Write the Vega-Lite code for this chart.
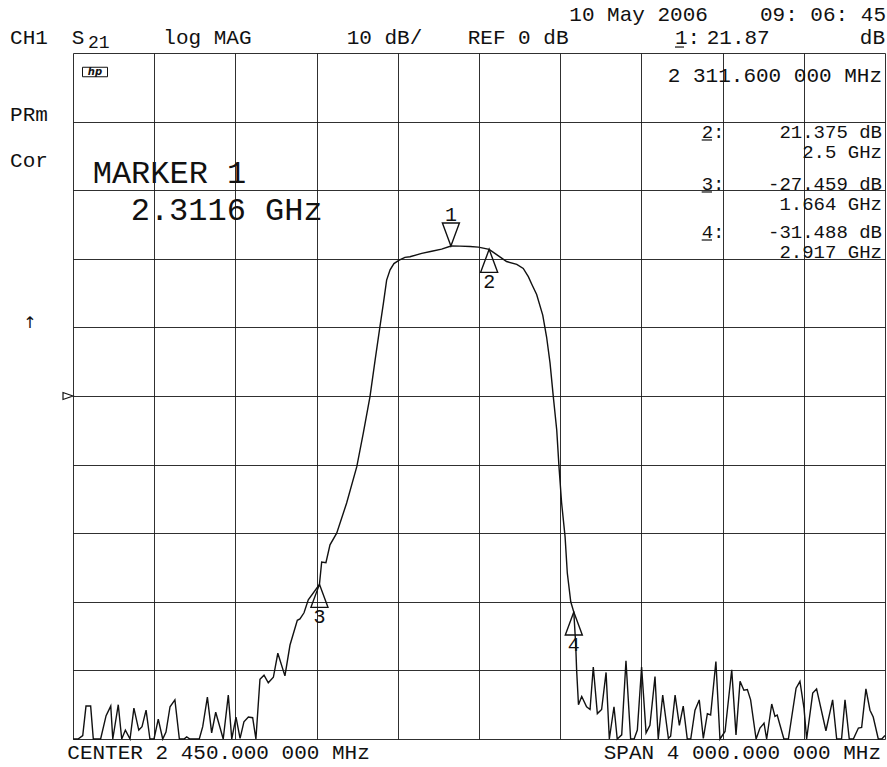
{
  "$schema": "https://vega.github.io/schema/vega-lite/v6.json",
  "width": 812,
  "height": 686,
  "autosize": {"type": "none"},
  "padding": {"left": 73, "top": 53, "right": 2, "bottom": 28},
  "background": "white",
  "config": {
    "view": {"stroke": null},
    "axis": {"grid": true, "gridColor": "#1a1a1a", "gridWidth": 1, "gridOpacity": 0.9, "labels": false, "ticks": false, "domain": false, "title": null}
  },
  "datasets": {
    "trace": [
      {"f":0.450,"db":-50},{"f":0.475,"db":-50},{"f":0.498,"db":-49.5},{"f":0.514,"db":-45.2},{"f":0.537,"db":-45.2},{"f":0.550,"db":-50},{"f":0.586,"db":-50},{"f":0.613,"db":-46.6},{"f":0.636,"db":-45.2},{"f":0.646,"db":-50},{"f":0.673,"db":-45.0},{"f":0.690,"db":-50},{"f":0.708,"db":-48.7},{"f":0.731,"db":-50},{"f":0.750,"db":-45.5},{"f":0.774,"db":-48.7},{"f":0.790,"db":-48.2},{"f":0.810,"db":-45.8},{"f":0.829,"db":-50},{"f":0.849,"db":-50},{"f":0.870,"db":-47.1},{"f":0.892,"db":-50},{"f":0.908,"db":-49.0},{"f":0.928,"db":-45.3},{"f":0.952,"db":-44.3},{"f":0.974,"db":-50},{"f":0.997,"db":-50},{"f":1.010,"db":-49.7},{"f":1.026,"db":-50},{"f":1.072,"db":-50},{"f":1.089,"db":-48.2},{"f":1.112,"db":-43.9},{"f":1.133,"db":-49.1},{"f":1.153,"db":-46.1},{"f":1.190,"db":-50},{"f":1.215,"db":-43.6},{"f":1.232,"db":-50},{"f":1.253,"db":-46.8},{"f":1.273,"db":-49.9},{"f":1.292,"db":-47.5},{"f":1.314,"db":-46.8},{"f":1.335,"db":-46.9},{"f":1.351,"db":-50},{"f":1.371,"db":-41.3},{"f":1.391,"db":-40.7},{"f":1.412,"db":-41.8},{"f":1.437,"db":-41.0},{"f":1.459,"db":-37.5},{"f":1.494,"db":-40.8},{"f":1.519,"db":-36.3},{"f":1.555,"db":-32.7},{"f":1.568,"db":-32.5},{"f":1.588,"db":-31.6},{"f":1.609,"db":-29.7},{"f":1.664,"db":-27.459},{"f":1.675,"db":-24.2},{"f":1.696,"db":-24.3},{"f":1.716,"db":-21.7},{"f":1.749,"db":-20.0},{"f":1.798,"db":-15.6},{"f":1.848,"db":-10.3},{"f":1.880,"db":-5.4},{"f":1.913,"db":-0.1},{"f":1.938,"db":5.2},{"f":1.962,"db":10.1},{"f":1.979,"db":13.5},{"f":1.995,"db":16.9},{"f":2.012,"db":18.4},{"f":2.031,"db":19.3},{"f":2.057,"db":19.8},{"f":2.085,"db":20.2},{"f":2.110,"db":20.3},{"f":2.168,"db":20.8},{"f":2.217,"db":21.1},{"f":2.266,"db":21.4},{"f":2.3116,"db":21.87},{"f":2.356,"db":21.85},{"f":2.406,"db":21.8},{"f":2.447,"db":21.7},{"f":2.500,"db":21.375},{"f":2.537,"db":20.6},{"f":2.586,"db":19.6},{"f":2.636,"db":19.2},{"f":2.668,"db":18.6},{"f":2.693,"db":17.4},{"f":2.710,"db":16.3},{"f":2.734,"db":14.8},{"f":2.764,"db":11.8},{"f":2.783,"db":8.6},{"f":2.800,"db":4.8},{"f":2.816,"db":-0.1},{"f":2.833,"db":-5.0},{"f":2.844,"db":-10.3},{"f":2.857,"db":-15.6},{"f":2.874,"db":-20.5},{"f":2.885,"db":-25.8},{"f":2.902,"db":-30.0},{"f":2.917,"db":-31.488},{"f":2.926,"db":-36.0},{"f":2.931,"db":-40.0},{"f":2.940,"db":-45.0},{"f":2.956,"db":-43.8},{"f":2.980,"db":-45.3},{"f":2.997,"db":-45.7},{"f":3.013,"db":-39.5},{"f":3.033,"db":-46.3},{"f":3.054,"db":-45.7},{"f":3.076,"db":-40.3},{"f":3.092,"db":-50},{"f":3.115,"db":-45.3},{"f":3.131,"db":-50},{"f":3.153,"db":-49.4},{"f":3.174,"db":-38.6},{"f":3.197,"db":-50},{"f":3.214,"db":-50},{"f":3.230,"db":-48.7},{"f":3.251,"db":-39.5},{"f":3.273,"db":-49.1},{"f":3.292,"db":-48.0},{"f":3.317,"db":-40.9},{"f":3.333,"db":-50},{"f":3.355,"db":-43.6},{"f":3.383,"db":-49.9},{"f":3.394,"db":-49.6},{"f":3.416,"db":-43.6},{"f":3.437,"db":-48.0},{"f":3.456,"db":-45.2},{"f":3.476,"db":-50},{"f":3.493,"db":-50},{"f":3.514,"db":-45.8},{"f":3.535,"db":-44.3},{"f":3.555,"db":-49.9},{"f":3.575,"db":-46.3},{"f":3.591,"db":-46.5},{"f":3.617,"db":-38.7},{"f":3.637,"db":-50},{"f":3.662,"db":-48.9},{"f":3.695,"db":-39.9},{"f":3.716,"db":-49.4},{"f":3.736,"db":-41.6},{"f":3.755,"db":-42.9},{"f":3.772,"db":-42.8},{"f":3.788,"db":-44.3},{"f":3.815,"db":-50},{"f":3.834,"db":-48.4},{"f":3.854,"db":-47.7},{"f":3.867,"db":-50},{"f":3.892,"db":-44.9},{"f":3.908,"db":-46.7},{"f":3.919,"db":-46.5},{"f":3.933,"db":-48.0},{"f":3.952,"db":-50},{"f":3.974,"db":-50},{"f":4.012,"db":-42.6},{"f":4.031,"db":-41.6},{"f":4.051,"db":-45.5},{"f":4.064,"db":-50},{"f":4.094,"db":-43.3},{"f":4.113,"db":-42.7},{"f":4.159,"db":-48.8},{"f":4.192,"db":-44.3},{"f":4.212,"db":-50},{"f":4.236,"db":-50},{"f":4.253,"db":-44.3},{"f":4.274,"db":-50},{"f":4.294,"db":-50},{"f":4.319,"db":-48.4},{"f":4.335,"db":-48.3},{"f":4.356,"db":-42.7},{"f":4.376,"db":-45.8},{"f":4.392,"db":-46.8},{"f":4.417,"db":-50},{"f":4.434,"db":-50},{"f":4.450,"db":-49.5}
    ],
    "markers": [
      {"m":"1","f":2.3116,"db":21.87,"dir":"down"},
      {"m":"2","f":2.5,"db":21.375,"dir":"up"},
      {"m":"3","f":1.664,"db":-27.459,"dir":"up"},
      {"m":"4","f":2.917,"db":-31.488,"dir":"up"}
    ],
    "textLeft": [
      {"t":"CH1","f":0.140,"db":51.38},
      {"t":"S","f":0.4436,"db":51.38},
      {"t":"log MAG","f":0.8948,"db":51.38},
      {"t":"10 dB/","f":1.7983,"db":51.38},
      {"t":"REF 0 dB","f":2.3943,"db":51.31},
      {"t":"1:","f":3.4155,"db":51.31},
      {"t":"21.87","f":3.5717,"db":51.31},
      {"t":"10 May 2006","f":2.8948,"db":54.66},
      {"t":"PRm","f":0.140,"db":40.13},
      {"t":"Cor","f":0.140,"db":33.43},
      {"t":"CENTER 2 450.000 000 MHz","f":0.4219,"db":-52.92}
    ],
    "textPanelLeft": [
      {"t":"2:","f":3.547,"db":37.61},
      {"t":"3:","f":3.547,"db":30.03},
      {"t":"4:","f":3.547,"db":23.03}
    ],
    "textRight": [
      {"t":"dB","f":4.45,"db":51.31},
      {"t":"09: 06: 45","f":4.4549,"db":54.66},
      {"t":"2 311.600 000 MHz","f":4.4353,"db":45.77},
      {"t":"SPAN 4 000.000 000 MHz","f":4.4303,"db":-52.92}
    ],
    "textPanelRight": [
      {"t":["21.375 dB","2.5 GHz"],"f":4.4353,"db":37.61},
      {"t":["-27.459 dB","1.664 GHz"],"f":4.4353,"db":30.03},
      {"t":["-31.488 dB","2.917 GHz"],"f":4.4353,"db":23.03}
    ],
    "textSub": [{"t":"21","f":0.5239,"db":50.73}],
    "textBig": [
      {"t":"MARKER 1","f":0.547,"db":31.09},
      {"t":"2.3116 GHz","f":0.7342,"db":25.66}
    ],
    "arrow": [{"t":"↑","f":0.2382,"db":9.91}],
    "ref": [{"f":0.45,"db":0}],
    "logo": [{"t":"hp","f":0.5584,"db":47.23}],
    "underline": [
      {"f1":3.4155,"f2":3.4599,"db":50.87},
      {"f1":3.547,"f2":3.5978,"db":37.32},
      {"f1":3.547,"f2":3.5978,"db":29.74},
      {"f1":3.547,"f2":3.5978,"db":22.74}
    ]
  },
  "layer": [
    {
      "data": {"name": "trace"},
      "mark": {"type": "line", "color": "#111", "strokeWidth": 1.4},
      "encoding": {
        "x": {"field": "f", "type": "quantitative", "scale": {"domain": [0.45, 4.45], "nice": false, "zero": false},
              "axis": {"values": [0.45, 0.85, 1.25, 1.65, 2.05, 2.45, 2.85, 3.25, 3.65, 4.05, 4.45]}},
        "y": {"field": "db", "type": "quantitative", "scale": {"domain": [-50, 50], "nice": false, "zero": false},
              "axis": {"values": [-50, -40, -30, -20, -10, 0, 10, 20, 30, 40, 50]}}
      }
    },
    {
      "data": {"name": "markers"},
      "mark": {"type": "point", "filled": false, "stroke": "#111", "strokeWidth": 1.4, "size": 2116, "opacity": 1},
      "encoding": {
        "x": {"field": "f", "type": "quantitative"},
        "y": {"field": "db", "type": "quantitative"},
        "shape": {"field": "dir", "type": "nominal", "scale": {"domain": ["down", "up"], "range": ["M0,0L-0.37,-1L0.37,-1Z", "M0,0L-0.37,1L0.37,1Z"]}, "legend": null}
      }
    },
    {
      "data": {"name": "markers"},
      "transform": [{"filter": "datum.dir == 'down'"}],
      "mark": {"type": "text", "font": "Liberation Mono", "fontSize": 20, "align": "center", "baseline": "alphabetic", "dy": -25, "color": "#111"},
      "encoding": {"x": {"field": "f", "type": "quantitative"}, "y": {"field": "db", "type": "quantitative"}, "text": {"field": "m"}}
    },
    {
      "data": {"name": "markers"},
      "transform": [{"filter": "datum.dir == 'up'"}],
      "mark": {"type": "text", "font": "Liberation Mono", "fontSize": 20, "align": "center", "baseline": "alphabetic", "dy": 39, "color": "#111"},
      "encoding": {"x": {"field": "f", "type": "quantitative"}, "y": {"field": "db", "type": "quantitative"}, "text": {"field": "m"}}
    },
    {
      "data": {"name": "textLeft"},
      "mark": {"type": "text", "font": "Liberation Mono", "fontSize": 21, "align": "left", "baseline": "alphabetic", "color": "#111"},
      "encoding": {"x": {"field": "f", "type": "quantitative"}, "y": {"field": "db", "type": "quantitative"}, "text": {"field": "t"}}
    },
    {
      "data": {"name": "textPanelLeft"},
      "mark": {"type": "text", "font": "Liberation Mono", "fontSize": 19, "align": "left", "baseline": "alphabetic", "color": "#111"},
      "encoding": {"x": {"field": "f", "type": "quantitative"}, "y": {"field": "db", "type": "quantitative"}, "text": {"field": "t"}}
    },
    {
      "data": {"name": "textRight"},
      "mark": {"type": "text", "font": "Liberation Mono", "fontSize": 21, "align": "right", "baseline": "alphabetic", "color": "#111"},
      "encoding": {"x": {"field": "f", "type": "quantitative"}, "y": {"field": "db", "type": "quantitative"}, "text": {"field": "t"}}
    },
    {
      "data": {"name": "textPanelRight"},
      "mark": {"type": "text", "font": "Liberation Mono", "fontSize": 19, "lineHeight": 20, "align": "right", "baseline": "alphabetic", "color": "#111"},
      "encoding": {"x": {"field": "f", "type": "quantitative"}, "y": {"field": "db", "type": "quantitative"}, "text": {"field": "t"}}
    },
    {
      "data": {"name": "textSub"},
      "mark": {"type": "text", "font": "Liberation Mono", "fontSize": 18, "align": "left", "baseline": "alphabetic", "color": "#111"},
      "encoding": {"x": {"field": "f", "type": "quantitative"}, "y": {"field": "db", "type": "quantitative"}, "text": {"field": "t"}}
    },
    {
      "data": {"name": "textBig"},
      "mark": {"type": "text", "font": "Liberation Mono", "fontSize": 32, "align": "left", "baseline": "alphabetic", "color": "#111"},
      "encoding": {"x": {"field": "f", "type": "quantitative"}, "y": {"field": "db", "type": "quantitative"}, "text": {"field": "t"}}
    },
    {
      "data": {"name": "arrow"},
      "mark": {"type": "text", "font": "DejaVu Sans", "fontSize": 16, "align": "center", "baseline": "alphabetic", "color": "#111"},
      "encoding": {"x": {"field": "f", "type": "quantitative"}, "y": {"field": "db", "type": "quantitative"}, "text": {"field": "t"}}
    },
    {
      "data": {"name": "ref"},
      "mark": {"type": "point", "filled": false, "stroke": "#111", "strokeWidth": 1.2, "size": 400, "shape": "M0,0L-1,-0.35L-1,0.35Z", "opacity": 1},
      "encoding": {"x": {"field": "f", "type": "quantitative"}, "y": {"field": "db", "type": "quantitative"}}
    },
    {
      "data": {"name": "logo"},
      "mark": {"type": "point", "filled": false, "stroke": "#111", "strokeWidth": 1, "size": 625, "shape": "M-1,-0.38L1,-0.38L1,0.38L-1,0.38Z", "opacity": 1},
      "encoding": {"x": {"field": "f", "type": "quantitative"}, "y": {"field": "db", "type": "quantitative"}}
    },
    {
      "data": {"name": "logo"},
      "mark": {"type": "text", "font": "DejaVu Sans", "fontSize": 10, "fontStyle": "italic", "fontWeight": "bold", "align": "center", "baseline": "middle", "color": "#111"},
      "encoding": {"x": {"field": "f", "type": "quantitative"}, "y": {"field": "db", "type": "quantitative"}, "text": {"field": "t"}}
    },
    {
      "data": {"name": "underline"},
      "mark": {"type": "rule", "color": "#111", "strokeWidth": 1.2},
      "encoding": {"x": {"field": "f1", "type": "quantitative"}, "x2": {"field": "f2"}, "y": {"field": "db", "type": "quantitative"}}
    }
  ]
}
